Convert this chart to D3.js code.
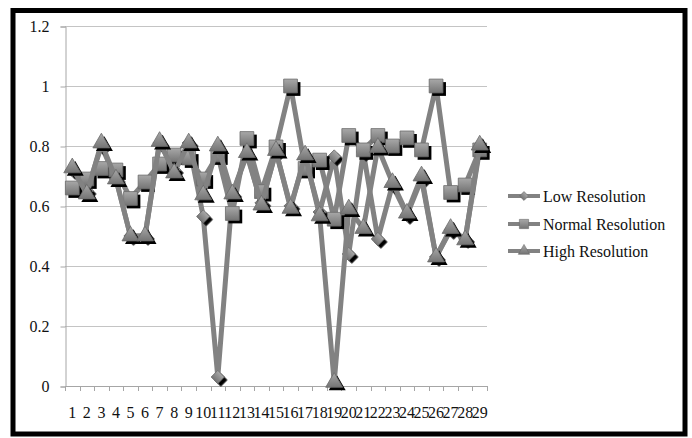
<!DOCTYPE html>
<html>
<head>
<meta charset="utf-8">
<script src="https://cdn.jsdelivr.net/npm/d3@7"></script>
<style>
  html, body { margin: 0; padding: 0; background: #fff; }
  svg { display: block; }
  text { font-family: "Liberation Serif", "DejaVu Serif", serif; }
</style>
</head>
<body>
<svg id="chart" width="692" height="438"></svg>
<script>
const categories = d3.range(1, 30).map(String);
const yTicks = [0, 0.2, 0.4, 0.6, 0.8, 1, 1.2];
const seriesNames = ["Low Resolution", "Normal Resolution", "High Resolution"];
const lowRes = [0.72, 0.65, 0.80, 0.69, 0.50, 0.50, 0.81, 0.72, 0.81, 0.565, 0.03, 0.64, 0.77, 0.61, 0.78, 0.60, 0.76, 0.58, 0.765, 0.44, 0.78, 0.49, 0.67, 0.57, 0.69, 0.43, 0.52, 0.49, 0.79];
const normalRes = [0.66, 0.69, 0.725, 0.72, 0.625, 0.68, 0.74, 0.77, 0.76, 0.69, 0.77, 0.575, 0.825, 0.648, 0.797, 1.0, 0.725, 0.753, 0.556, 0.835, 0.787, 0.835, 0.80, 0.827, 0.787, 1.0, 0.645, 0.67, 0.787];
const highRes = [0.727, 0.64, 0.81, 0.69, 0.50, 0.50, 0.815, 0.71, 0.81, 0.637, 0.80, 0.64, 0.778, 0.603, 0.785, 0.592, 0.77, 0.567, 0.012, 0.59, 0.525, 0.795, 0.678, 0.576, 0.70, 0.43, 0.525, 0.487, 0.803];

const svg = d3.select("#chart");
const W = 692, H = 438;
svg.append("rect").attr("x", 0).attr("y", 0).attr("width", W).attr("height", H).attr("fill", "#fff");
// outer frame
svg.append("rect").attr("x", 13).attr("y", 10.5).attr("width", 672).attr("height", 423.5)
  .attr("fill", "none").attr("stroke", "#000").attr("stroke-width", 5);

const plotL = 65, plotR = 487, plotT = 26, plotB = 386;
const x = d3.scaleBand().domain(categories).range([plotL, plotR]).padding(0);
const y = d3.scaleLinear().domain([0, 1.2]).range([plotB, plotT]);

const defs = svg.append("defs");
const grad = defs.append("linearGradient").attr("id", "mk").attr("x1", 0).attr("y1", 0).attr("x2", 0).attr("y2", 1);
grad.append("stop").attr("offset", "0%").attr("stop-color", "#a8a8a8");
grad.append("stop").attr("offset", "100%").attr("stop-color", "#747474");
defs.append("filter").attr("id", "blur").append("feGaussianBlur").attr("stdDeviation", 0.5);

// gridlines
svg.append("g").selectAll("line").data(yTicks.filter(d => d > 0)).join("line")
  .attr("x1", plotL).attr("x2", plotR)
  .attr("y1", d => Math.round(y(d)) + 0.5).attr("y2", d => Math.round(y(d)) + 0.5)
  .attr("stroke", "#c4c4c4").attr("stroke-width", 1);

// y axis
const yAxis = d3.axisLeft(y).tickValues(yTicks).tickSize(5).tickPadding(11)
  .tickFormat(d => d === 0 ? "0" : (d === 1 ? "1" : d3.format(".1f")(d)));
const gy = svg.append("g").attr("transform", `translate(${plotL + 0.5},0.5)`).call(yAxis);
gy.select(".domain").attr("stroke", "#a6a6a6");
gy.selectAll(".tick line").attr("stroke", "#a6a6a6");
gy.selectAll(".tick text").attr("font-size", 16).attr("fill", "#111")
  .attr("font-family", "Liberation Serif, serif");

// x axis (labels at band centers)
const xAxis = d3.axisBottom(x).tickSize(0).tickPadding(20);
const gx = svg.append("g").attr("transform", `translate(0,${plotB + 0.5})`).call(xAxis);
gx.select(".domain").remove();
gx.selectAll(".tick text").attr("font-size", 16).attr("fill", "#111")
  .attr("font-family", "Liberation Serif, serif");
// x axis line & boundary ticks
svg.append("line").attr("x1", plotL).attr("x2", plotR).attr("y1", plotB + 0.5).attr("y2", plotB + 0.5)
  .attr("stroke", "#a6a6a6");
const bounds = categories.map(c => x(c)).concat([x(categories[categories.length - 1]) + x.bandwidth()]);
svg.append("g").selectAll("line").data(bounds).join("line")
  .attr("x1", d => Math.round(d) + 0.5).attr("x2", d => Math.round(d) + 0.5)
  .attr("y1", plotB).attr("y2", plotB + 5)
  .attr("stroke", "#a6a6a6");

const cx = c => x(c) + x.bandwidth() / 2;
const data = [lowRes, normalRes, highRes];
const shapes = [
  { type: d3.symbolSquare, size: 88, rot: 45 },
  { type: d3.symbolSquare, size: 190, rot: 0 },
  { type: d3.symbolTriangle, size: 125, rot: 0 }
];

const line = d3.line().x((d, i) => cx(categories[i])).y(d => y(d));

data.forEach((vals, si) => {
  const g = svg.append("g");
  g.append("path").datum(vals).attr("d", line)
    .attr("fill", "none").attr("stroke", "#828282").attr("stroke-width", 5)
    .attr("stroke-linejoin", "round");
  const sym = d3.symbol().type(shapes[si].type).size(shapes[si].size);
  // shadows
  g.append("g").selectAll("path").data(vals).join("path")
    .attr("d", sym)
    .attr("transform", (d, i) => `translate(${cx(categories[i]) + 3},${y(d) + 3}) rotate(${shapes[si].rot})`)
    .attr("fill", "#000").attr("filter", "url(#blur)");
  g.append("g").selectAll("path").data(vals).join("path")
    .attr("d", sym)
    .attr("transform", (d, i) => `translate(${cx(categories[i])},${y(d)}) rotate(${shapes[si].rot})`)
    .attr("fill", "url(#mk)").attr("stroke", "#6a6a6a").attr("stroke-width", 0.8);
});

// legend
const legend = svg.append("g");
const legendY = [196, 224, 251];
seriesNames.forEach((name, si) => {
  const ly = legendY[si];
  legend.append("line").attr("x1", 508).attr("x2", 540).attr("y1", ly).attr("y2", ly)
    .attr("stroke", "#828282").attr("stroke-width", 4);
  const sym = d3.symbol().type(shapes[si].type).size(shapes[si].size * 0.45);
  legend.append("path").attr("d", sym)
    .attr("transform", `translate(524,${ly}) rotate(${shapes[si].rot})`)
    .attr("fill", "url(#mk)").attr("stroke", "#6a6a6a").attr("stroke-width", 0.6);
  legend.append("text").attr("x", 543).attr("y", ly).attr("dy", "0.35em")
    .attr("font-size", 16).attr("fill", "#111").text(name);
});
</script>
</body>
</html>
